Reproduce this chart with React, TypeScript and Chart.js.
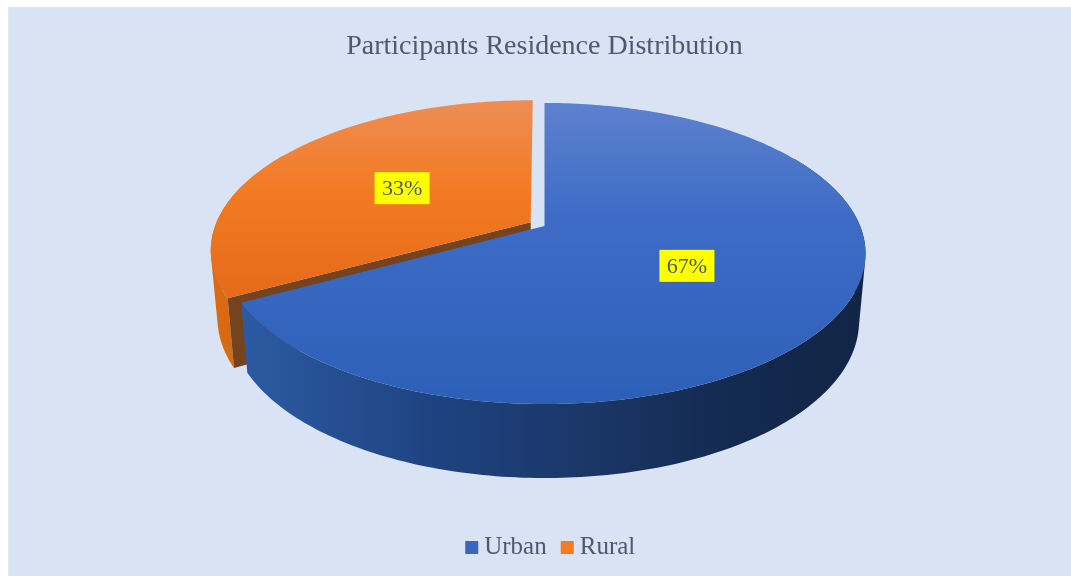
import React, { useEffect, useRef } from "react";
import { Chart, registerables } from "chart.js";

Chart.register(...registerables);

const categories = ["Urban", "Rural"];
const shares = [67, 33];
const percentLabels = ["67%", "33%"];
const explodeOffsets = [0, 11];
const legendColors = ["#3a66c0", "#f47a24"];

const TITLE = "Participants Residence Distribution";
const TEXT = "#4a5a73";
const SERIF = '"Liberation Serif", serif';
const BG = "#dae3f3";

// projection of the pie plane on screen
const PLANE_X = 315.6;
const PLANE_Y = 145.5;
const PERSP = 0.1827;
const DEPTH_BASE = 66;
const DEPTH_V = 8;
const BOTTOM_SCALE = 0.98;
const STEP = Math.PI / 180;
const LEGEND_SHIFT = 9;

type P = [number, number];

const perspectivePie = {
  id: "perspectivePie",
  afterLayout(chart: any) {
    chart.legend.left += LEGEND_SHIFT;
    chart.legend.right += LEGEND_SHIFT;
  },
  beforeDatasetDraw(chart: any) {
    const ctx: CanvasRenderingContext2D = chart.ctx;
    const arcs = chart.getDatasetMeta(0).data;
    const ref = arcs[0];
    const cx = ref.x;
    const cy = 218;

    const top = (u: number, v: number): P => {
      const w = 1 - PERSP * v;
      return [cx + (PLANE_X * u) / w, cy + (PLANE_Y * v) / w];
    };
    const low = (u: number, v: number): P => {
      const [x, y] = top(u, v);
      return [cx + (x - cx) * BOTTOM_SCALE, y + DEPTH_BASE + DEPTH_V * v];
    };

    const poly = (pts: P[]) => {
      ctx.moveTo(pts[0][0], pts[0][1]);
      for (let i = 1; i < pts.length; i++) ctx.lineTo(pts[i][0], pts[i][1]);
      ctx.closePath();
    };
    const oriented = (pts: P[]) => {
      let area = 0;
      for (let i = 0; i < pts.length; i++) {
        const a = pts[i];
        const b = pts[(i + 1) % pts.length];
        area += a[0] * b[1] - b[0] * a[1];
      }
      return area < 0 ? pts.slice().reverse() : pts;
    };

    const geom = arcs.map((arc: any) => {
      const p = arc.getProps(["startAngle", "endAngle", "outerRadius"], true);
      const mid = (p.startAngle + p.endAngle) / 2;
      const d = (arc.options.offset || 0) / p.outerRadius;
      return {
        start: p.startAngle,
        end: p.endAngle,
        du: Math.cos(mid) * d,
        dv: Math.sin(mid) * d,
        mid,
      };
    });

    const drawSide = (g: any, fill: any) => {
      const n = Math.max(2, Math.ceil((g.end - g.start) / STEP));
      ctx.beginPath();
      for (let i = 0; i < n; i++) {
        const a = g.start + ((g.end - g.start) * i) / n;
        const b = g.start + ((g.end - g.start) * (i + 1)) / n;
        // the far part of the rim is hidden behind the top face
        if (Math.sin(a) < -0.5 && Math.sin(b) < -0.5) continue;
        const ua = Math.cos(a) + g.du, va = Math.sin(a) + g.dv;
        const ub = Math.cos(b) + g.du, vb = Math.sin(b) + g.dv;
        poly(oriented([top(ua, va), top(ub, vb), low(ub, vb), low(ua, va)]));
      }
      ctx.fillStyle = fill;
      ctx.fill("nonzero");
    };
    const drawTop = (g: any, fill: any) => {
      const n = Math.max(2, Math.ceil((g.end - g.start) / STEP));
      const pts: P[] = [top(g.du, g.dv)];
      for (let i = 0; i <= n; i++) {
        const a = g.start + ((g.end - g.start) * i) / n;
        pts.push(top(Math.cos(a) + g.du, Math.sin(a) + g.dv));
      }
      ctx.beginPath();
      poly(pts);
      ctx.fillStyle = fill;
      ctx.fill();
    };
    const vGrad = (y0: number, y1: number, stops: [number, string][]) => {
      const gr = ctx.createLinearGradient(0, y0, 0, y1);
      stops.forEach(([o, c]) => gr.addColorStop(o, c));
      return gr;
    };
    const hGrad = (x0: number, x1: number, stops: [number, string][]) => {
      const gr = ctx.createLinearGradient(x0, 0, x1, 0);
      stops.forEach(([o, c]) => gr.addColorStop(o, c));
      return gr;
    };

    ctx.save();
    const [urban, rural] = geom;

    // rural: rim, cut wall, top
    drawSide(rural, hGrad(200, 300, [[0, "#d96b14"], [1, "#cf6412"]]));
    const ruralCorner: [number, number] = [
      Math.cos(rural.start) + rural.du,
      Math.sin(rural.start) + rural.dv,
    ];
    ctx.beginPath();
    poly([
      top(rural.du, rural.dv),
      top(ruralCorner[0], ruralCorner[1]),
      low(ruralCorner[0], ruralCorner[1]),
      low(rural.du, rural.dv),
    ]);
    ctx.fillStyle = "#76431f";
    ctx.fill();
    drawTop(rural, vGrad(cy - 126, cy + 80, [[0, "#ee8d53"], [0.45, "#f37a22"], [1, "#e4691a"]]));

    // urban: rim, top
    drawSide(
      urban,
      hGrad(cx - 300, cx + 320, [
        [0, "#2c5aa2"],
        [0.3, "#1f4381"],
        [0.55, "#1a3767"],
        [0.8, "#13294f"],
        [1, "#122545"],
      ])
    );
    drawTop(urban, vGrad(cy - 115, cy + 186, [[0, "#5b80cd"], [0.35, "#3e6cc6"], [1, "#2b5fb6"]]));

    // value labels with yellow boxes
    ctx.font = `22px ${SERIF}`;
    ctx.textAlign = "center";
    ctx.textBaseline = "middle";
    geom.forEach((g: any, i: number) => {
      const [x, y] = top(Math.cos(g.mid) * 0.5 + g.du, Math.sin(g.mid) * 0.5 + g.dv);
      ctx.fillStyle = "#ffff00";
      ctx.fillRect(x - 27.5, y - 15, 55, 32);
      ctx.fillStyle = "#4d5a63";
      ctx.fillText(percentLabels[i], x, y + 2);
    });
    ctx.restore();
    return false;
  },
};

export default function App() {
  const ref = useRef<HTMLCanvasElement | null>(null);
  useEffect(() => {
    const chart = new Chart(ref.current as HTMLCanvasElement, {
      type: "pie",
      data: {
        labels: categories,
        datasets: [
          {
            data: shares,
            backgroundColor: legendColors,
            borderWidth: 0,
            offset: explodeOffsets,
          },
        ],
      },
      options: {
        responsive: false,
        animation: false,
        layout: { padding: { top: 0, bottom: 6 } },
        plugins: {
          title: {
            display: true,
            text: TITLE,
            color: TEXT,
            font: { family: SERIF, size: 28, weight: "normal" },
            padding: { top: 22, bottom: 10 },
          },
          legend: {
            display: true,
            position: "bottom",
            labels: {
              color: TEXT,
              font: { family: SERIF, size: 25 },
              usePointStyle: true,
              pointStyle: "rect",
              boxWidth: 0.01,
              boxHeight: 13,
              padding: 20.5,
            },
          },
          tooltip: { enabled: false },
        },
      },
      plugins: [perspectivePie],
    } as any);
    return () => chart.destroy();
  }, []);
  return (
    <div
      style={{
        position: "absolute",
        left: 8,
        top: 7,
        width: 1063,
        height: 569,
        overflow: "hidden",
        background: BG,
        boxShadow: "inset 2px 1px 0 #e3e6ec",
      }}
    >
      <canvas
        ref={ref}
        width={1073}
        height={568}
        style={{ position: "absolute", left: 0, top: 1, display: "block" }}
      />
    </div>
  );
}
